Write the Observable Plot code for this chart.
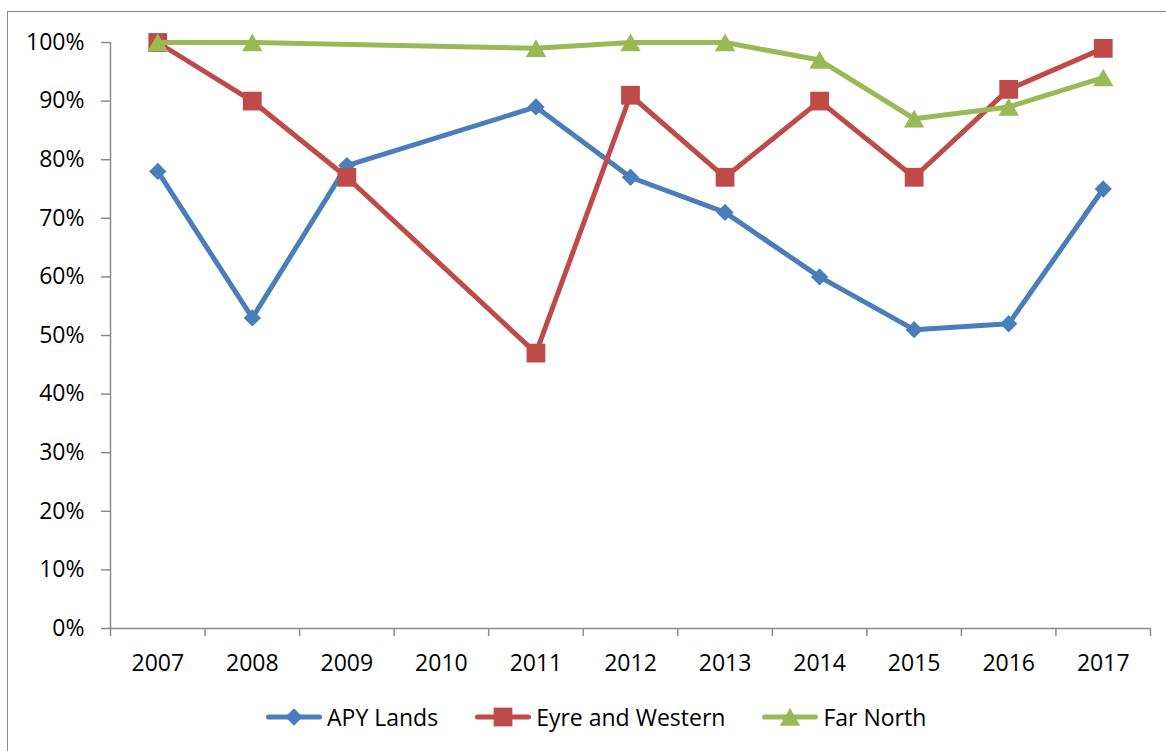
<!DOCTYPE html>
<html>
<head>
<meta charset="utf-8">
<script src="https://cdn.jsdelivr.net/npm/d3@7"></script>
<script src="https://cdn.jsdelivr.net/npm/@observablehq/plot@0.6"></script>
<style>
  html, body { margin: 0; padding: 0; background: white; }
  body { width: 1166px; height: 751px; position: relative; overflow: hidden; font-family: "Open Sans", sans-serif; }
  #frame { position: absolute; left: 7px; top: 11px; width: 1300px; height: 900px;
           border-left: 1.5px solid #8a8a8a; border-top: 1.5px solid #8a8a8a; z-index: 2; pointer-events: none; }
  #chart { position: absolute; left: 0; top: 0; z-index: 1; }
  #legend { position: absolute; left: 266px; top: 700px; height: 34px; display: flex; align-items: center; z-index: 3;
            font-family: "Open Sans", sans-serif; font-size: 23px; color: black; }
  .item { display: flex; align-items: center; margin-right: 37px; }
  .item svg { display: block; margin-right: 5px; }
</style>
</head>
<body>
<div id="frame"></div>
<div id="chart"></div>
<div id="legend"></div>
<script>
// ---- data ----
const years = ["2007", "2008", "2009", "2010", "2011", "2012", "2013", "2014", "2015", "2016", "2017"];
const seriesNames = ["APY Lands", "Eyre and Western", "Far North"];
const apyLands = [78, 53, 79, null, 89, 77, 71, 60, 51, 52, 75];
const eyreWestern = [100, 90, 77, null, 47, 91, 77, 90, 77, 92, 99];
const farNorth = [100, 100, null, null, 99, 100, 100, 97, 87, 89, 94];
const yTicks = [0, 10, 20, 30, 40, 50, 60, 70, 80, 90, 100];

// ---- styles ----
const colors = ["#4a7ebb", "#be4b48", "#98b954"];
const symbols = ["diamond2", "square", "triangle"];
const radii = [7.8, 10.6, 7.6];
const dys = [0, 0, 2.8];
const d3Symbols = [d3.symbolDiamond2, d3.symbolSquare, d3.symbolTriangle];

const valueLists = [apyLands, eyreWestern, farNorth];
const tables = valueLists.map((vals, s) =>
  years.map((y, i) => ({series: seriesNames[s], year: y, i, v: vals[i]})).filter(d => d.v != null)
);

const idx = years.map((_, i) => i);
const boundaries = [...idx.map(i => i - 0.5), years.length - 0.5];
const axisGray = "#8a8a8a";

const marks = [
  Plot.ruleY([0], {stroke: axisGray, strokeWidth: 1.5}),
  Plot.ruleX([-0.5], {stroke: axisGray, strokeWidth: 1.5}),
  Plot.axisY({ticks: yTicks, tickFormat: d => d + "%", tickSize: 9, tickPadding: 17,
              stroke: axisGray, strokeWidth: 1.5, fill: "black", fontSize: 23, label: null}),
  Plot.axisX({ticks: boundaries, tickFormat: () => "", tickSize: 8, stroke: axisGray, strokeWidth: 1.5, label: null}),
  Plot.axisX({ticks: idx, tickFormat: i => years[i], tickSize: 0, tickPadding: 26,
              fill: "black", fontSize: 23, label: null})
];
tables.forEach((t, s) => {
  marks.push(Plot.line(t, {x: "i", y: "v", stroke: colors[s], strokeWidth: 5}));
  marks.push(Plot.dot(t, {x: "i", y: "v", symbol: () => symbols[s], r: radii[s], fill: colors[s], stroke: "none", dy: dys[s]}));
});

const chart = Plot.plot({
  width: 1166,
  height: 690,
  marginTop: 42,
  marginBottom: 62,
  marginLeft: 110,
  marginRight: 16,
  style: {fontFamily: "Open Sans", fontSize: "23px", background: "transparent", color: "black"},
  x: {type: "linear", domain: [-0.5, years.length - 0.5], axis: null},
  y: {domain: [0, 100], axis: null},
  symbol: {type: "identity"},
  marks
});
document.getElementById("chart").appendChild(chart);

// ---- legend ----
const legend = document.getElementById("legend");
seriesNames.forEach((name, s) => {
  const item = document.createElement("div");
  item.className = "item";
  const area = Math.PI * radii[s] * radii[s];
  const path = d3.symbol(d3Symbols[s], area)();
  item.innerHTML =
    `<svg width="56" height="30" viewBox="0 0 56 30">
       <line x1="2.5" y1="15" x2="53.5" y2="15" stroke="${colors[s]}" stroke-width="5" stroke-linecap="round"/>
       <path d="${path}" transform="translate(28,${15 + dys[s]})" fill="${colors[s]}"/>
     </svg><span>${name}</span>`;
  legend.appendChild(item);
});
</script>
</body>
</html>
